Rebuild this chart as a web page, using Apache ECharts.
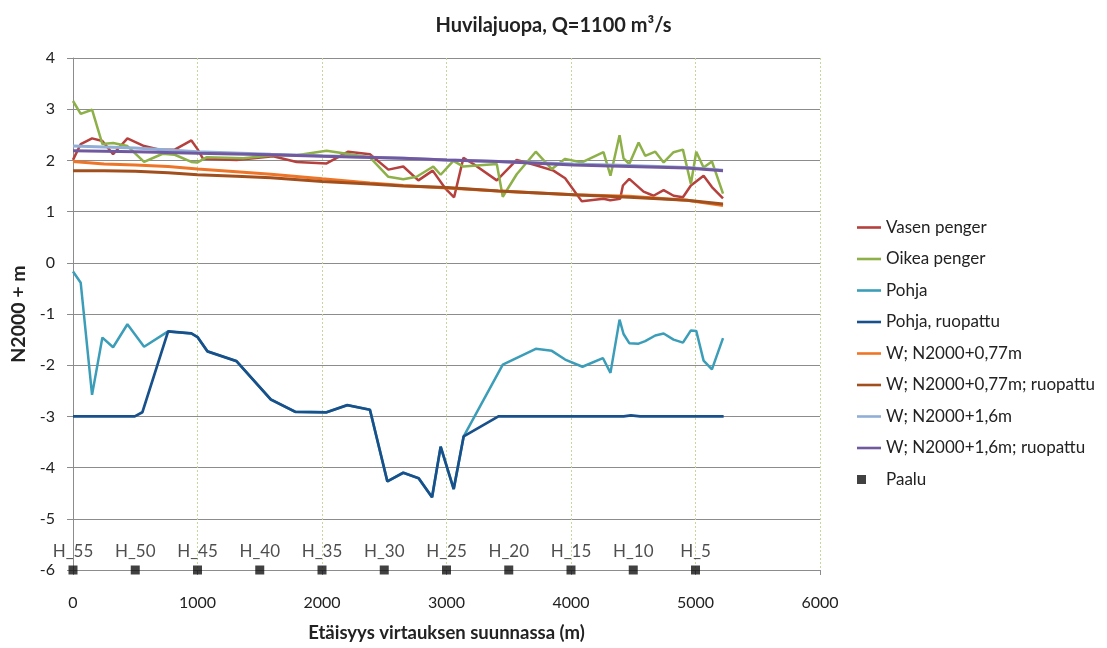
<!DOCTYPE html>
<html>
<head>
<meta charset="utf-8">
<script src="https://cdn.jsdelivr.net/npm/echarts@6/dist/echarts.min.js"></script>
<style>
  html, body { margin: 0; padding: 0; background: #fff; }
  #chart { width: 1107px; height: 648px; }
</style>
</head>
<body>
<div id="chart"></div>
<script>
// Longitudinal profile of Huvilajuopa: bank levels, bed levels and water levels
// [distance along the flow (m), level N2000 (m)]
const vasenPenger = [
  [0, 2.01], [62, 2.32], [153, 2.43], [236, 2.38], [322, 2.12], [437, 2.43], [571, 2.28],
  [697, 2.21], [817, 2.21], [951, 2.39], [1000, 2.22], [1045, 2.03], [1313, 2.01],
  [1608, 2.08], [1796, 1.97], [2037, 1.94], [2211, 2.17], [2385, 2.12], [2533, 1.82],
  [2653, 1.88], [2774, 1.61], [2889, 1.80], [2988, 1.46], [3061, 1.28], [3136, 2.05],
  [3216, 1.93], [3404, 1.61], [3564, 2.01], [3725, 1.90], [3859, 1.80], [3953, 1.65],
  [4087, 1.20], [4261, 1.25], [4315, 1.22], [4395, 1.25], [4417, 1.51], [4468, 1.64],
  [4583, 1.39], [4663, 1.31], [4744, 1.42], [4824, 1.31], [4899, 1.28], [4963, 1.51],
  [5065, 1.70], [5132, 1.48], [5221, 1.26]
];
const oikeaPenger = [
  [0, 3.16], [62, 2.91], [153, 2.99], [236, 2.32], [322, 2.34], [437, 2.28], [571, 1.97],
  [720, 2.13], [817, 2.11], [951, 1.97], [1000, 1.96], [1072, 2.06], [1367, 2.04],
  [1608, 2.10], [1796, 2.10], [2037, 2.19], [2171, 2.14], [2385, 2.06], [2533, 1.68],
  [2653, 1.63], [2760, 1.68], [2894, 1.88], [2953, 1.72], [3055, 1.99], [3136, 1.88],
  [3404, 1.93], [3452, 1.29], [3564, 1.73], [3717, 2.17], [3846, 1.83], [3953, 2.03],
  [4087, 1.96], [4261, 2.16], [4317, 1.70], [4390, 2.49], [4422, 2.04], [4468, 1.93],
  [4543, 2.35], [4596, 2.09], [4677, 2.17], [4744, 1.96], [4824, 2.16], [4899, 2.21],
  [4963, 1.54], [5006, 2.17], [5065, 1.86], [5132, 1.98], [5221, 1.35]
];
const pohja = [
  [0, -0.17], [62, -0.39], [153, -2.58], [236, -1.46], [322, -1.65], [437, -1.20],
  [571, -1.64], [764, -1.34], [951, -1.38], [1000, -1.45], [1080, -1.73], [1313, -1.92],
  [1589, -2.67], [1785, -2.91], [2037, -2.92], [2203, -2.78], [2385, -2.87], [2525, -4.27],
  [2653, -4.10], [2777, -4.21], [2884, -4.58], [2953, -3.59], [3058, -4.42], [3138, -3.39],
  [3452, -1.99], [3717, -1.68], [3846, -1.72], [3953, -1.89], [4092, -2.03], [4256, -1.86],
  [4317, -2.15], [4390, -1.11], [4422, -1.39], [4468, -1.57], [4543, -1.58], [4596, -1.53],
  [4677, -1.42], [4744, -1.38], [4824, -1.50], [4899, -1.56], [4963, -1.32], [5006, -1.33],
  [5065, -1.91], [5132, -2.08], [5221, -1.47]
];
const pohjaRuopattu = [
  [0, -3.00], [496, -3.00], [557, -2.92], [764, -1.34], [951, -1.38], [1000, -1.45],
  [1080, -1.73], [1313, -1.92], [1589, -2.67], [1785, -2.91], [2037, -2.92], [2203, -2.78],
  [2385, -2.87], [2525, -4.27], [2653, -4.10], [2777, -4.21], [2884, -4.58], [2953, -3.59],
  [3058, -4.42], [3138, -3.39], [3417, -3.00], [4422, -3.00], [4481, -2.98], [4556, -3.00],
  [5226, -3.00]
];
const w077 = [
  [0, 1.98], [250, 1.93], [500, 1.91], [764, 1.88], [1000, 1.83], [1313, 1.78], [1589, 1.73],
  [2002, 1.64], [2385, 1.56], [2653, 1.51], [3002, 1.46], [3417, 1.40], [4020, 1.33],
  [4468, 1.30], [4931, 1.22], [5221, 1.12]
];
const w077Ruopattu = [
  [0, 1.80], [250, 1.80], [500, 1.79], [764, 1.76], [1000, 1.72], [1313, 1.69], [1589, 1.66],
  [2002, 1.59], [2385, 1.54], [2653, 1.50], [3002, 1.47], [3417, 1.40], [4020, 1.33],
  [4468, 1.28], [4931, 1.22], [5221, 1.15]
];
const w16 = [
  [0, 2.28], [500, 2.24], [1000, 2.17], [1589, 2.12], [2002, 2.09], [2653, 2.04], [3002, 2.01],
  [3417, 1.98], [4020, 1.93], [4468, 1.90], [4931, 1.86], [5221, 1.81]
];
const w16Ruopattu = [
  [0, 2.19], [500, 2.17], [1000, 2.14], [1589, 2.11], [2002, 2.08], [2653, 2.04], [3002, 2.01],
  [3417, 1.98], [4020, 1.91], [4468, 1.88], [4931, 1.85], [5221, 1.80]
];
// Chainage stakes along the channel
const paaluX = [0, 500, 1000, 1500, 2000, 2500, 3000, 3500, 4000, 4500, 5000];
const paaluLabels = ['H_55', 'H_50', 'H_45', 'H_40', 'H_35', 'H_30', 'H_25', 'H_20', 'H_15', 'H_10', 'H_5'];
const paaluLevel = -6;

const FONT = 'Lato';
const TEXT = '#222222';
// Thin bar for line entries; small square sitting at the left end for the stake entry
const LINE_ICON = 'path://M0,0h24v2.6h-24z';
const SQUARE_ICON = 'path://M0,0h9v9h-9z M24,0 L24,0.01';

const chart = echarts.init(document.getElementById('chart'), null, { renderer: 'canvas' });

function lineSeries(name, data, color, width) {
  return {
    name, type: 'line', data, symbol: 'none', smooth: false,
    lineStyle: { color, width: width || 2.5 },
    itemStyle: { color },
    emphasis: { disabled: true }, animation: false
  };
}

const lineNames = [
  'Vasen penger', 'Oikea penger', 'Pohja', 'Pohja, ruopattu',
  'W; N2000+0,77m', 'W; N2000+0,77m; ruopattu', 'W; N2000+1,6m', 'W; N2000+1,6m; ruopattu'
];

const option = {
  backgroundColor: '#ffffff',
  animation: false,
  textStyle: { fontFamily: FONT },
  title: {
    text: 'Huvilajuopa, Q=1100 m³/s',
    left: 'center', top: 11,
    textStyle: { fontFamily: FONT, fontSize: 20, fontWeight: 'bold', color: TEXT }
  },
  grid: { left: 73, right: 287, top: 58, bottom: 75, containLabel: false },
  legend: {
    orient: 'vertical', left: 852, top: 214,
    itemWidth: 24, itemHeight: 10, itemGap: 14.5,
    textStyle: { fontFamily: FONT, fontSize: 17, color: TEXT },
    data: lineNames.map(n => ({ name: n, icon: LINE_ICON }))
      .concat([{ name: 'Paalu', icon: SQUARE_ICON }])
  },
  xAxis: {
    type: 'value', min: 0, max: 6000, interval: 1000,
    name: 'Etäisyys virtauksen suunnassa (m)', nameLocation: 'middle', nameGap: 54,
    nameTextStyle: { fontFamily: FONT, fontSize: 18.5, fontWeight: 'bold', color: TEXT },
    axisLine: { show: true, onZero: false, lineStyle: { color: '#8c8c8c', width: 1 } },
    axisTick: { show: true, length: 5, lineStyle: { color: '#8c8c8c' } },
    axisLabel: { margin: 25, fontFamily: FONT, fontSize: 16, color: TEXT, formatter: v => String(v) },
    splitLine: { show: true, lineStyle: { color: '#c5d89c', width: 1, type: [2, 2] } }
  },
  yAxis: {
    type: 'value', min: -6, max: 4, interval: 1,
    name: 'N2000 + m', nameLocation: 'middle', nameGap: 40, nameRotate: 90,
    nameTextStyle: { fontFamily: FONT, fontSize: 19.5, fontWeight: 'bold', color: TEXT },
    axisLine: { show: true, lineStyle: { color: '#8c8c8c', width: 1 } },
    axisTick: { show: true, length: 6, lineStyle: { color: '#8c8c8c' } },
    axisLabel: { margin: 18, fontFamily: FONT, fontSize: 16, color: TEXT },
    splitLine: { show: true, lineStyle: { color: '#8c8c8c', width: 1 } }
  },
  series: [
    lineSeries('Vasen penger', vasenPenger, '#b5403d'),
    lineSeries('Oikea penger', oikeaPenger, '#8db048'),
    lineSeries('Pohja', pohja, '#3b9db8'),
    lineSeries('Pohja, ruopattu', pohjaRuopattu, '#17508a', 2.7),
    lineSeries('W; N2000+0,77m', w077, '#ee7528', 3),
    lineSeries('W; N2000+0,77m; ruopattu', w077Ruopattu, '#a24f1e', 3),
    lineSeries('W; N2000+1,6m', w16, '#91afd6', 3),
    lineSeries('W; N2000+1,6m; ruopattu', w16Ruopattu, '#7159a0', 3),
    {
      name: 'Paalu', type: 'scatter', symbol: 'rect', symbolSize: 9, clip: false,
      itemStyle: { color: '#111111' },
      data: paaluX.map((x, i) => ({ value: [x, paaluLevel], name: paaluLabels[i] })),
      label: {
        show: true, position: 'top', distance: 5,
        formatter: p => p.name,
        fontFamily: FONT, fontSize: 17, color: TEXT
      },
      emphasis: { disabled: true }, animation: false
    }
  ]
};
chart.setOption(option);
</script>
</body>
</html>
